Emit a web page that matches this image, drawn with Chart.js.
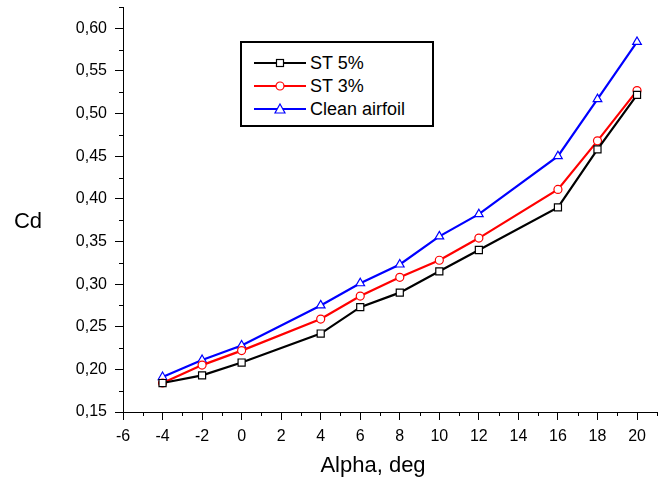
<!DOCTYPE html>
<html>
<head>
<meta charset="utf-8">
<script src="https://cdn.jsdelivr.net/npm/chart.js@4/dist/chart.umd.min.js"></script>
<style>
  body { margin: 0; background: #fff; }
  #wrap { position: relative; width: 663px; height: 479px; }
  #legend {
    position: absolute; left: 240px; top: 41px; width: 190px; height: 82px;
    border: 2px solid #000; background: #fff;
    font-family: 'Liberation Sans', Arial, sans-serif; font-size: 18px; color: #000;
  }
  .row { position: absolute; left: 12px; height: 22px; display: flex; align-items: center; }
  .row svg { display: block; }
  .row span { margin-left: 4px; white-space: nowrap; }
</style>
</head>
<body>
<div id="wrap">
  <canvas id="chart" width="663" height="479"></canvas>
  <div id="legend"></div>
</div>
<script>
document.addEventListener('DOMContentLoaded', () => {
    const alpha = [-4, -2, 0, 4, 6, 8, 10, 12, 16, 18, 20];
    const st5 = [0.184, 0.193, 0.208, 0.242, 0.273, 0.290, 0.315, 0.340, 0.390, 0.458, 0.522];
    const st3 = [0.184, 0.205, 0.222, 0.259, 0.286, 0.308, 0.328, 0.354, 0.411, 0.468, 0.527];
    const clean = [0.191, 0.211, 0.228, 0.275, 0.301, 0.323, 0.356, 0.382, 0.450, 0.517, 0.584];
    const xTicks = [-6, -4, -2, 0, 2, 4, 6, 8, 10, 12, 14, 16, 18, 20];
    const yTicks = [0.15, 0.20, 0.25, 0.30, 0.35, 0.40, 0.45, 0.50, 0.55, 0.60];

    const font = "'Liberation Sans', Arial, sans-serif";

    const series = [
        { label: 'ST 5%', values: st5, color: '#000000', style: 'rect', radius: 5 },
        { label: 'ST 3%', values: st3, color: '#ff0000', style: 'circle', radius: 4 },
        { label: 'Clean airfoil', values: clean, color: '#0000ff', style: 'triangle', radius: 5 }
    ];

    // minor ticks and the two axis titles
    const extras = {
        id: 'extras',
        afterDraw(chart) {
            const { ctx, scales: { x, y } } = chart;
            ctx.save();
            ctx.strokeStyle = '#000';
            ctx.lineWidth = 1;
            ctx.beginPath();
            for (let v = -5; v <= 21; v += 2) {
                const px = Math.round(x.getPixelForValue(v)) + 0.5;
                ctx.moveTo(px, y.bottom);
                ctx.lineTo(px, y.bottom + 4);
            }
            for (let i = 0; i < 10; i++) {
                const py = Math.round(y.getPixelForValue(0.175 + i * 0.05)) + 0.5;
                ctx.moveTo(x.left, py);
                ctx.lineTo(x.left - 4, py);
            }
            ctx.stroke();

            ctx.fillStyle = '#000';
            ctx.font = '22px ' + font;
            ctx.textAlign = 'center';
            ctx.textBaseline = 'alphabetic';
            ctx.fillText('Alpha, deg', 373, 472);
            ctx.fillText('Cd', 28, 228);
            ctx.restore();
        }
    };

    new Chart(document.getElementById('chart').getContext('2d'), {
        type: 'line',
        data: {
            datasets: series.map(s => ({
                label: s.label,
                data: alpha.map((a, i) => ({ x: a, y: s.values[i] })),
                borderColor: s.color,
                borderWidth: 2.2,
                pointStyle: s.style,
                pointRadius: s.radius,
                pointBorderColor: s.color,
                pointBackgroundColor: '#fff',
                pointBorderWidth: 1.2,
                tension: 0
            }))
        },
        options: {
            responsive: false,
            animation: false,
            devicePixelRatio: 1,
            layout: { padding: { left: 0, right: 6, top: 7, bottom: 0 } },
            plugins: { legend: { display: false }, tooltip: { enabled: false } },
            scales: {
                x: {
                    type: 'linear',
                    min: -6,
                    max: 21,
                    afterBuildTicks: scale => { scale.ticks = xTicks.map(v => ({ value: v })); },
                    afterFit: scale => { scale.height = 67; },
                    grid: { drawOnChartArea: false, drawTicks: true, tickLength: 8, color: '#000' },
                    border: { display: true, color: '#000', width: 1 },
                    ticks: { color: '#000', font: { family: font, size: 16 }, padding: 7, maxRotation: 0 }
                },
                y: {
                    min: 0.15,
                    max: 0.625,
                    afterBuildTicks: scale => { scale.ticks = yTicks.map(v => ({ value: v })); },
                    afterFit: scale => { scale.width = 123; scale.paddingTop = 0; scale.paddingBottom = 0; },
                    grid: { drawOnChartArea: false, drawTicks: true, tickLength: 8, color: '#000' },
                    border: { display: true, color: '#000', width: 1 },
                    ticks: {
                        color: '#000',
                        font: { family: font, size: 16 },
                        padding: 8,
                        callback: v => v.toFixed(2).replace('.', ',')
                    }
                }
            }
        },
        plugins: [extras]
    });

    // legend box
    const legend = document.getElementById('legend');
    const tops = [9, 32, 55];
    series.forEach((s, i) => {
        let marker;
        if (s.style === 'rect') marker = '<rect x="22.5" y="4.5" width="7" height="7" fill="#fff" stroke="' + s.color + '" stroke-width="1.2"/>';
        else if (s.style === 'circle') marker = '<circle cx="26" cy="8" r="4" fill="#fff" stroke="' + s.color + '" stroke-width="1.2"/>';
        else marker = '<polygon points="26,3 31,12 21,12" fill="#fff" stroke="' + s.color + '" stroke-width="1.2"/>';
        const row = document.createElement('div');
        row.className = 'row';
        row.style.top = tops[i] + 'px';
        row.innerHTML = '<svg width="52" height="16"><line x1="0" y1="8" x2="52" y2="8" stroke="' + s.color + '" stroke-width="2"/>' + marker + '</svg><span>' + s.label + '</span>';
        legend.appendChild(row);
    });
});
</script>
</body>
</html>
